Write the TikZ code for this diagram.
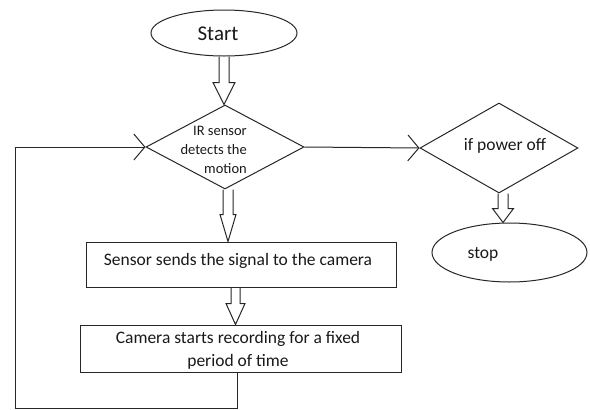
\documentclass[tikz,border=0pt]{standalone}
\usepackage{fontspec}
\setmainfont{Carlito}
\usetikzlibrary{shapes.geometric,arrows.meta,calc}
\newcommand{\blockarrow}[6][0]{%
  \draw[ln] let \p1=(#2), \p2=(#3) in
    (\x1-#4pt,\y1) -- (\x1-#4pt,\y2+#6pt) -- (\x1-#5pt,\y2+#6pt) -- (\x1,\y2)
    -- (\x1+#5pt,\y2+#6pt) -- (\x1+#4pt,\y2+#6pt) -- (\x1+#4pt,\y1);}
\begin{document}
\begin{tikzpicture}[x=1pt,y=-1pt,
  ln/.style={draw=black!85,line width=1pt},
  oval/.style={ellipse,ln,inner sep=0pt},
  dia/.style={diamond,ln,inner sep=0pt},
  box/.style={rectangle,ln,inner sep=0pt},
  txt/.style={font=\fontsize{17.5}{23.5}\selectfont,inner sep=0pt,anchor=base,text=black!90},
  small/.style={font=\fontsize{14.5}{19}\selectfont},
  barb/.style={ln,-{Straight Barb[length=11pt,width=26pt]}}]
\useasboundingbox (0,0) rectangle (590,410);
% shapes
\node[oval,minimum width=146pt,minimum height=46pt] (start) at (224,33) {};
\node[txt,font=\fontsize{21}{25}\selectfont] (startt) at (218,40) {Start};
\node[dia,minimum width=158pt,minimum height=84pt] (d1) at (225,147) {};
\node[txt,small,align=right,anchor=base east] (d1t) at (247,173) {IR sensor\\detects the\\motion};
\node[box,minimum width=310pt,minimum height=45pt] (r1) at (241,264.5) {};
\node[txt] (r1t) at (238,265) {Sensor sends the signal to the camera};
\node[box,minimum width=321pt,minimum height=47pt] (r2) at (240.5,348.5) {};
\node[txt,align=center] (r2t) at (238,366.5) {Camera starts recording for a fixed\\period of time};
\node[dia,minimum width=158pt,minimum height=90pt] (d2) at (499,148) {};
\node[txt] (d2t) at (505,150) {if power off};
\node[oval,minimum width=155pt,minimum height=59pt] (stop) at (509.5,252.5) {};
\node[txt] (stopt) at (483,258) {stop};
% block arrows
\blockarrow{start.south}{d1.north}{5}{11}{22}
\blockarrow{[xshift=3pt]d1.south}{r1.north}{5}{8}{27}
\blockarrow{[xshift=-5.5pt]r1.south}{r2.north}{4.5}{9.5}{21}
\blockarrow{[xshift=4pt]d2.south}{stop.north}{5}{10.5}{14}
% connectors
\coordinate (lb) at (15,408);
\draw[barb] ([xshift=-3.5pt]r2.south) |- (lb) |- (d1.west);
\draw[barb] (d1.east) -- (d2.west);
\end{tikzpicture}
\end{document}
